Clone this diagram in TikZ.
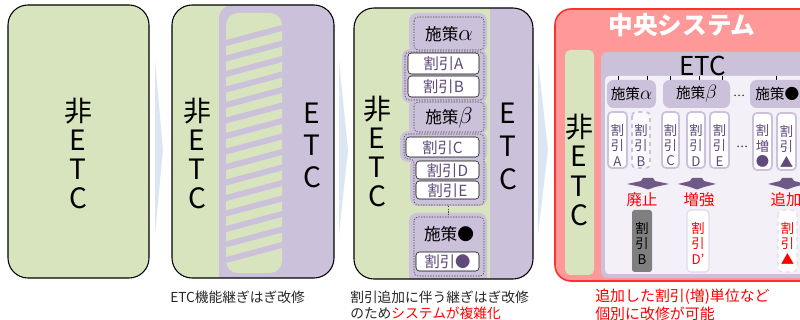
\documentclass[tikz,border=0pt]{standalone}
\usepackage{fontspec}
\setmainfont{Noto Sans CJK JP}
\definecolor{grn}{HTML}{D7E4BD}
\definecolor{pur}{HTML}{CCC1DA}
\definecolor{dpur}{HTML}{604A7B}
\definecolor{lav}{HTML}{F3F0F7}
\definecolor{pinkf}{HTML}{FF9999}
\definecolor{redb}{HTML}{FF3030}
\definecolor{lblue}{HTML}{DCE6F2}
\definecolor{txtred}{HTML}{FF0000}
\definecolor{capgray}{HTML}{262626}
\definecolor{boxgray}{HTML}{7F7F7F}
\newcommand\myalpha[1]{{\fontsize{#1}{#1}\selectfont$\alpha$}}
\newcommand\mybeta[1]{{\fontsize{#1}{#1}\selectfont$\beta$}}
\tikzset{
  panel/.style={draw=black, line width=0.8pt, rounded corners=15pt},
  bigtxt/.style={align=center, inner sep=0pt, font=\fontsize{21pt}{21.75pt}\selectfont},
  captxt/.style={anchor=west, inner sep=0pt, text=capgray, font=\fontsize{10.3pt}{12pt}\selectfont},
  redcap/.style={anchor=west, inner sep=0pt, text=txtred, font=\fontsize{11.2pt}{13pt}\selectfont},
  wbox/.style={fill=white, rounded corners=2.5pt},
  wtxt/.style={inner sep=0pt, text=dpur, font=\fontsize{11.5pt}{13pt}\selectfont},
  ptxt/.style={inner sep=0pt, text=black, font=\fontsize{12.5pt}{14pt}\selectfont},
  dsh/.style={draw=black!75, dash pattern=on 1pt off 1pt, line width=0.4pt, rounded corners=3pt},
  vt/.style={align=center, inner sep=0pt, text=dpur, font=\fontsize{10pt}{11.6pt}\selectfont},
  ubox/.style={fill=white, draw=pur, line width=1.3pt, rounded corners=3pt},
  sbox/.style={fill=pur, rounded corners=5pt},
  redlab/.style={inner sep=0pt, text=txtred, font=\fontsize{11.5pt}{13pt}\selectfont},
  darr/.style={fill=dpur, draw=none, opacity=0.9},
}
\begin{document}
\begin{tikzpicture}[x=0.75pt, y=-0.75pt]
\useasboundingbox (0,0) rectangle (800,320);

% light blue chevrons between panels
\fill[lblue] (155,60) -- (163,150) -- (155,235) -- cycle;
\fill[lblue] (339,60) -- (348,150) -- (339,235) -- cycle;
\fill[lblue] (538,60) -- (548,150) -- (538,235) -- cycle;

% ---------- panel 1
\draw[panel, fill=grn] (8,5) rectangle (149,278);
\node[bigtxt] (p1t) at (78,153) {非\\E\\T\\C};

% ---------- panel 2
\begin{scope}
  \clip[rounded corners=15pt] (172,5) rectangle (334,278);
  \fill[grn] (172,5) rectangle (334,278);
  \fill[pur, rounded corners=10pt] (219,5) rectangle (345,290);
  \fill[grn, rounded corners=9pt] (226,13) rectangle (282,273);
  \clip[rounded corners=9pt] (226,13) rectangle (282,273);
  \foreach \k in {0,...,14} {
    \fill[pur] (226,40+15.5*\k) -- (282,25+15.5*\k) -- (282,31+15.5*\k) -- (226,46+15.5*\k) -- cycle;
  }
\end{scope}
\draw[panel] (172,5) rectangle (334,278);
\node[bigtxt] (p2l) at (197,153) {非\\E\\T\\C};
\node[bigtxt, font=\fontsize{21pt}{24pt}\selectfont] (p2r) at (312,145) {E\\T\\C};
\node[captxt] (c2) at (170,297) {ETC機能継ぎはぎ改修};

% ---------- panel 3
\begin{scope}
  \clip[rounded corners=15pt] (354,8) rectangle (533,279);
  \fill[grn] (354,8) rectangle (533,279);
  \fill[pur] (490,0) rectangle (540,290);
  \fill[pur, rounded corners=6pt] (409,13) rectangle (487,53);
  \fill[pur, rounded corners=6pt] (402,49) rectangle (487,103);
  \fill[pur, rounded corners=6pt] (409,99) rectangle (487,135);
  \fill[pur, rounded corners=6pt] (400,131) rectangle (487,162);
  \fill[pur, rounded corners=6pt] (410,158) rectangle (487,206);
  \fill[pur, rounded corners=6pt] (409,213) rectangle (487,290);
\end{scope}
\draw[panel] (354,8) rectangle (533,279);
\draw[dsh] (414,17) rectangle (484,50);
\draw[dsh] (405,52) rectangle (484,100);
\draw[dsh] (414,102) rectangle (484,132);
\draw[dsh] (404,134) -- (484,134) -- (484,205) -- (414,205) -- (414,159) -- (404,159) -- cycle;
\draw[dsh] (414,217) rectangle (484,276);
\draw[black!75, dash pattern=on 1pt off 1pt, line width=0.5pt] (448,206) -- (448,216);
\draw[wbox] (408,53) rectangle (479,74);
\draw[wbox] (408,76) rectangle (479,97);
\draw[wbox] (406,137) rectangle (479,157);
\draw[wbox] (416,161) rectangle (479,179);
\draw[wbox] (416,181) rectangle (479,199);
\draw[wbox] (416,252) rectangle (479,271);
\node[ptxt] (s3a) at (449,34) {施策\myalpha{16pt}};
\node[wtxt] (d3a) at (443.5,64) {割引A};
\node[wtxt] (d3b) at (443.5,87) {割引B};
\node[ptxt] (s3b) at (449,118) {施策\mybeta{16pt}};
\node[wtxt] (d3c) at (442.5,147.5) {割引C};
\node[wtxt] (d3d) at (447.5,170.5) {割引D};
\node[wtxt] (d3e) at (447.5,190.5) {割引E};
\node[ptxt] (s3c) at (449,234) {施策●};
\node[wtxt] (d3f) at (447.5,262) {割引●};
\node[bigtxt] (p3l) at (377,151) {非\\E\\T\\C};
\node[bigtxt, font=\fontsize{21pt}{24.75pt}\selectfont] (p3r) at (508,146) {E\\T\\C};
\node[captxt] (c3a) at (350,297) {割引追加に伴う継ぎはぎ改修};
\node[captxt] (c3b) at (350,313) {のため\textcolor{txtred}{システムが複雑化}};

% ---------- panel 4
\draw[fill=pinkf, draw=redb, line width=1.2pt, rounded corners=12pt] (555,9) rectangle (830,281);
\node[inner sep=0pt, text=white, font=\fontsize{18.5pt}{20pt}\selectfont\bfseries] (title) at (682,25) {中央システム};
\fill[grn, rounded corners=4pt] (565,50) rectangle (594,275);
\node[bigtxt, font=\fontsize{21pt}{22pt}\selectfont] (p4l) at (579,170) {非\\E\\T\\C};
\fill[pur, rounded corners=5pt] (601,52) rectangle (830,278);
\fill[lav, rounded corners=3pt] (605,76) rectangle (830,274);
\node[inner sep=0pt, font=\fontsize{19.5pt}{20pt}\selectfont] (etc4) at (703,66) {ETC};
\foreach \x in {618,647,670,699,722,776} { \draw[line width=0.6pt] (\x,76) -- (\x,81); }
\fill[sbox] (607,80) rectangle (656,108);
\fill[sbox] (663,80) rectangle (730,108);
\fill[sbox] (750,80) rectangle (830,108);
\node[ptxt, font=\fontsize{11pt}{13pt}\selectfont] (s4a) at (631.5,94) {施策\myalpha{14pt}};
\node[ptxt, font=\fontsize{11pt}{13pt}\selectfont] (s4b) at (696.5,94) {施策\mybeta{14pt}};
\node[ptxt, font=\fontsize{11pt}{13pt}\selectfont, anchor=west] (s4c) at (755,94) {施策●};
\node[inner sep=0pt, font=\fontsize{8pt}{9pt}\selectfont] (dots1) at (739,96) {…};
\node[inner sep=0pt, font=\fontsize{8pt}{9pt}\selectfont] (dots2) at (742,147) {…};
\draw[ubox] (608,112) rectangle (627,168);
\draw[pur, line width=1.3pt, dashed, fill=white!60!lav, rounded corners=3pt] (632,112) rectangle (650,168);
\draw[ubox] (662,112) rectangle (679,168);
\draw[ubox] (687,112) rectangle (705,168);
\draw[ubox] (710,112) rectangle (729,168);
\draw[ubox] (753,113) rectangle (772,170);
\draw[ubox] (777,113) rectangle (796,170);
\node[vt] (u4a) at (617.5,145) {割\\引\\A};
\node[vt] (u4b) at (641,145) {割\\引\\B};
\node[vt] (u4c) at (670.5,145) {割\\引\\C};
\node[vt] (u4d) at (696,145) {割\\引\\D};
\node[vt] (u4e) at (719.5,145) {割\\引\\E};
\node[vt] (u4f) at (762.5,146) {割\\増\\●};
\node[vt] (u4g) at (786.5,146) {割\\引\\▲};
% flat down arrows
\foreach \cx/\hw in {648/21,697/19,787/19} {
  \fill[darr] (\cx-\hw,184) -- (\cx-7,181) -- (\cx-5,178) -- (\cx+5,178) -- (\cx+7,181)
     -- (\cx+\hw,184) -- (\cx+7,187) -- (\cx,189.5) -- (\cx-7,187) -- cycle;
}
\node[redlab] (l4a) at (642,200) {廃止};
\node[redlab] (l4b) at (699,200) {増強};
\node[redlab] (l4c) at (786,200) {追加};
\fill[boxgray, rounded corners=2pt] (632,210) rectangle (652,272);
\draw[fill=white, draw=pur!60, line width=0.8pt, rounded corners=3pt] (687,210) rectangle (709,272);
\draw[fill=white, draw=pur!60, line width=0.8pt, dashed, rounded corners=3pt] (778,210) rectangle (797,272);
\node[vt, text=black] (b4b) at (642,243) {割\\引\\B};
\node[vt, text=txtred] (b4d) at (698,243) {割\\引\\D'};
\node[vt, text=txtred] (b4g) at (787.5,243) {割\\引\\▲};
\node[redcap] (c4a) at (595,297) {追加した割引(増)単位など};
\node[redcap] (c4b) at (595,314) {個別に改修が可能};
\end{tikzpicture}
\end{document}
